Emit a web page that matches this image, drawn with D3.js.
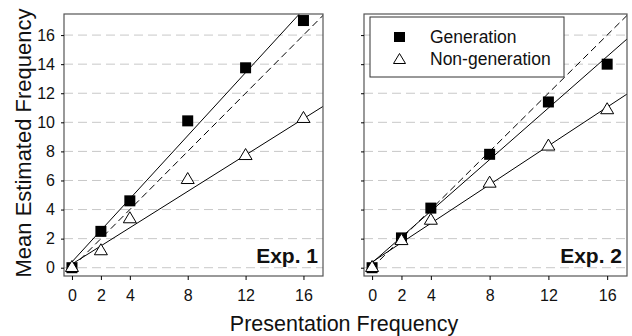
<!DOCTYPE html>
<html>
<head>
<meta charset="utf-8">
<script src="https://cdn.jsdelivr.net/npm/d3@7"></script>
<style>
body { margin: 0; background: #fff; }
text { font-family: "Liberation Sans", Arial, sans-serif; }
</style>
</head>
<body>
<div id="chart"></div>
<script>
// Data
var xValues = [0, 2, 4, 8, 12, 16];
var xTicks = [0, 2, 4, 8, 12, 16];
var yTicks = [0, 2, 4, 6, 8, 10, 12, 14, 16];

var exp1Gen = [0, 2.5, 4.6, 10.1, 13.75, 17.0];
var exp1Non = [0.05, 1.2, 3.4, 6.1, 7.75, 10.3];
var exp2Gen = [0, 2.05, 4.1, 7.8, 11.4, 14.0];
var exp2Non = [0.05, 1.9, 3.3, 5.85, 8.4, 10.9];

// fitted lines [slope, intercept]
var exp1GenFit = [1.085, 0.4];
var exp1NonFit = [0.625, 0.25];
var exp2GenFit = [0.887, 0.34];
var exp2NonFit = [0.666, 0.39];

var panelNames = ["Exp. 1", "Exp. 2"];
var seriesNames = ["Generation", "Non-generation"];

var width = 632, height = 336;
var top_ = 14, bottom = 276;
var font = "'Liberation Sans', Arial, sans-serif";

var svg = d3.select("#chart").append("svg")
    .attr("width", width)
    .attr("height", height);

var y = d3.scaleLinear().domain([-0.57, 17.45]).range([bottom, top_]);

function marker(g, kind, cx, cy) {
    if (kind == 0) {
        g.append("rect")
        .attr("x", cx - 5.5).attr("y", cy - 5.5)
        .attr("width", 11).attr("height", 11)
        .attr("fill", "#000");
    } else {
        g.append("path")
        .attr("d", "M" + cx + "," + (cy - 6.5) + "L" + (cx + 6.5) + "," + (cy + 4.5) + "L" + (cx - 6.5) + "," + (cy + 4.5) + "Z")
        .attr("fill", "#fff")
        .attr("stroke", "#000")
        .attr("stroke-width", 1);
    }
}

function panel(idx, left, right, gen, non, genFit, nonFit, showY) {
    var x = d3.scaleLinear().domain([-0.55, 17.35]).range([left, right]);
    var g = svg.append("g");
    var clipId = "clip" + idx;

    g.append("clipPath").attr("id", clipId)
    .append("rect")
    .attr("x", left).attr("y", top_)
    .attr("width", right - left).attr("height", bottom - top_);

    // grid
    g.selectAll(".grid").data(yTicks).enter().append("line")
    .attr("x1", left).attr("x2", right)
    .attr("y1", function(d) { return y(d); })
    .attr("y2", function(d) { return y(d); })
    .attr("stroke", "#c8c8c8")
    .attr("stroke-dasharray", "9,5");

    var plot = g.append("g").attr("clip-path", "url(#" + clipId + ")");

    // identity line
    plot.append("line")
    .attr("x1", x(0)).attr("y1", y(0))
    .attr("x2", x(18)).attr("y2", y(18))
    .attr("stroke", "#000")
    .attr("stroke-width", 1)
    .attr("stroke-dasharray", "7,4");

    [genFit, nonFit].forEach(function(f) {
        plot.append("line")
        .attr("x1", x(0)).attr("y1", y(f[1]))
        .attr("x2", x(18)).attr("y2", y(f[1] + 18 * f[0]))
        .attr("stroke", "#000")
        .attr("stroke-width", 1);
    });

    // points: non-generation drawn over generation
    xValues.forEach(function(v, i) { marker(g, 0, x(v), y(gen[i])); });
    xValues.forEach(function(v, i) { marker(g, 1, x(v), y(non[i])); });

    // frame
    g.append("rect")
    .attr("x", left).attr("y", top_)
    .attr("width", right - left).attr("height", bottom - top_)
    .attr("fill", "none")
    .attr("stroke", "#555")
    .attr("stroke-width", 1.2);

    var xAxis = d3.axisBottom(x).tickValues(xTicks).tickSize(4).tickPadding(10);
    var ax = g.append("g").attr("transform", "translate(0," + bottom + ")").call(xAxis);
    ax.select(".domain").remove();
    ax.selectAll("text").attr("font-size", 16).attr("fill", "#111")
    .style("font-family", font);

    var yAxis = d3.axisLeft(y).tickValues(yTicks).tickSize(3).tickPadding(6);
    if (!showY) yAxis.tickFormat("");
    var ay = g.append("g").attr("transform", "translate(" + left + ",0)").call(yAxis);
    ay.select(".domain").remove();
    ay.selectAll("text").attr("font-size", 16).attr("fill", "#111")
    .style("font-family", font);

    g.append("text")
    .attr("x", right - 5).attr("y", bottom - 13)
    .attr("text-anchor", "end")
    .attr("font-size", 21)
    .attr("font-weight", "bold")
    .attr("fill", "#111")
    .text(panelNames[idx]);

    return x;
}

panel(0, 64, 323, exp1Gen, exp1Non, exp1GenFit, exp1NonFit, true);
panel(1, 364, 627, exp2Gen, exp2Non, exp2GenFit, exp2NonFit, false);

// legend
var lg = svg.append("g");
lg.append("rect")
.attr("x", 370).attr("y", 17)
.attr("width", 194).attr("height", 60)
.attr("fill", "#fff")
.attr("stroke", "#333")
.attr("stroke-width", 1);
seriesNames.forEach(function(name, i) {
    var cy = 37 + i * 22;
    if (i == 0) {
        lg.append("rect").attr("x", 394).attr("y", cy - 5).attr("width", 11).attr("height", 10).attr("fill", "#000");
    } else {
        lg.append("path")
        .attr("d", "M399.5," + (cy - 5.5) + "L405.5," + (cy + 4.5) + "L393.5," + (cy + 4.5) + "Z")
        .attr("fill", "#fff").attr("stroke", "#000");
    }
    lg.append("text")
    .attr("x", 430).attr("y", cy + 6)
    .attr("font-size", 17.5)
    .attr("fill", "#111")
    .text(name);
});

// axis titles
svg.append("text")
.attr("x", 344).attr("y", 331)
.attr("text-anchor", "middle")
.attr("font-size", 21.5)
.attr("fill", "#111")
.text("Presentation Frequency");

svg.append("text")
.attr("transform", "translate(31,143) rotate(-90)")
.attr("text-anchor", "middle")
.attr("font-size", 22)
.attr("fill", "#111")
.text("Mean Estimated Frequency");
</script>
</body>
</html>
